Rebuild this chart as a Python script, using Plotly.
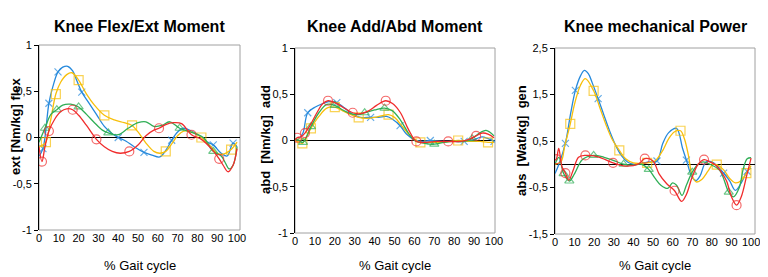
import plotly.graph_objects as go

# ---- data: % gait cycle (x) and values (y), markers shown at the listed x ----
# Knee Flex/Ext Moment [Nm/kg]
fe_blue_x = [0, 2, 5, 7, 9.6, 12, 14.5, 17, 19, 21.6, 25, 29, 33, 37, 40, 44, 48, 53, 57, 61, 64, 67, 70, 73, 77, 81, 85, 88, 92, 95, 98, 100]
fe_blue_y = [-0.2, -0.12, 0.37, 0.55, 0.71, 0.76, 0.77, 0.72, 0.62, 0.49, 0.38, 0.25, 0.12, 0.04, 0.0, -0.04, -0.1, -0.16, -0.19, -0.21, -0.14, -0.03, 0.06, 0.1, 0.07, 0.02, -0.05, -0.08, -0.17, -0.2, -0.06, -0.1]
fe_blue_m = [2, 5, 9.6, 21.6, 40, 53, 67, 88, 98]

fe_yellow_x = [0, 2, 3.5, 6, 8.5, 11, 14, 16.6, 20, 24, 28, 33, 38, 43, 47, 50, 54, 58, 61, 64, 67, 70, 73, 77, 82, 86, 90, 93, 97, 100]
fe_yellow_y = [-0.1, -0.08, -0.05, 0.2, 0.47, 0.6, 0.68, 0.7, 0.62, 0.47, 0.35, 0.24, 0.19, 0.16, 0.13, 0.06, -0.06, -0.15, -0.17, -0.15, -0.07, 0.02, 0.07, 0.06, 0.0, -0.08, -0.17, -0.18, -0.13, -0.05]
fe_yellow_m = [3.5, 8.5, 20, 33, 47, 64, 82, 97]

fe_green_x = [0, 3, 6, 9, 12, 16, 20, 24, 28, 32, 35, 40, 45, 50, 54, 58, 62, 66, 71, 75, 79, 83, 88, 92, 94, 96, 98, 100]
fe_green_y = [-0.05, 0.1, 0.25, 0.3, 0.35, 0.36, 0.33, 0.25, 0.16, 0.08, 0.05, 0.03, 0.1, 0.16, 0.17, 0.12, 0.13, 0.17, 0.1, 0.07, 0.04, 0.0, -0.15, -0.2, -0.27, -0.34, -0.3, -0.1]
fe_green_m = [3, 9, 20, 35, 71, 88]

fe_red_x = [0, 1.5, 3, 5, 8, 11, 14, 17, 20, 24, 29, 33, 37, 41, 45.6, 50, 54, 58, 60.6, 64, 68, 72, 77, 82, 87, 91, 93, 95.5, 98, 100]
fe_red_y = [-0.1, -0.26, -0.1, 0.07, 0.2, 0.28, 0.31, 0.3, 0.24, 0.13, -0.02, -0.1, -0.15, -0.17, -0.15, -0.08, 0.02, 0.08, 0.1, 0.14, 0.16, 0.15, 0.03, -0.02, -0.12, -0.23, -0.3, -0.37, -0.3, -0.12]
fe_red_m = [1.5, 5, 17, 29, 45.6, 60.6, 77, 91]

# Knee Add/Abd Moment [Nm/kg]
aa_blue_x = [0, 2, 4, 6.4, 10, 14, 17, 21, 25, 29, 33, 38, 42, 46, 49, 52.8, 56, 60, 64, 68, 74, 80, 85, 90, 94, 97, 100]
aa_blue_y = [0.0, 0.02, 0.08, 0.3, 0.36, 0.4, 0.42, 0.41, 0.35, 0.28, 0.25, 0.25, 0.25, 0.26, 0.23, 0.16, 0.07, 0.01, -0.01, 0.0, -0.01, -0.01, -0.01, 0.01, 0.04, 0.02, -0.01]
aa_blue_m = [6.4, 21, 38, 52.8, 68, 85, 100]

aa_yellow_x = [0, 2, 3.7, 6, 8, 12, 16, 20, 24, 28, 32, 36, 40, 44, 47, 50, 54, 58, 63, 68, 75, 82, 88, 93, 97, 100]
aa_yellow_y = [0.0, -0.02, -0.03, 0.05, 0.13, 0.26, 0.35, 0.36, 0.32, 0.28, 0.25, 0.24, 0.25, 0.27, 0.28, 0.25, 0.15, 0.05, -0.02, -0.02, -0.02, 0.0, -0.01, -0.01, -0.02, -0.02]
aa_yellow_m = [3.7, 8, 20, 32, 47, 63, 82, 97]

aa_green_x = [0, 2, 4, 8, 12, 16, 20, 24, 28, 32, 35, 40, 45, 49, 53, 57, 60, 65, 70, 75, 80, 85, 89, 92, 96, 100]
aa_green_y = [0.02, 0.0, -0.02, 0.15, 0.3, 0.39, 0.38, 0.33, 0.29, 0.28, 0.3, 0.33, 0.35, 0.32, 0.22, 0.08, 0.0, -0.03, -0.04, -0.02, -0.01, -0.01, 0.02, 0.07, 0.11, 0.05]
aa_green_m = [4, 8, 20, 35, 45, 70, 89]

aa_red_x = [0, 1, 3, 5, 8, 11, 14, 16.6, 20, 24, 29, 33, 37, 41, 45.6, 49, 53, 57, 61, 66, 71, 77, 83, 87, 91, 94, 97, 100]
aa_red_y = [0.0, 0.03, 0.04, 0.08, 0.18, 0.3, 0.4, 0.43, 0.41, 0.36, 0.3, 0.29, 0.32, 0.38, 0.43, 0.4, 0.3, 0.12, -0.01, -0.02, -0.01, -0.01, -0.01, 0.01, 0.05, 0.08, 0.07, 0.03]
aa_red_m = [1, 5, 16.6, 29, 45.6, 61, 77, 91]

# Knee mechanical Power [W/kg]
pw_blue_x = [0, 2, 5.3, 8, 10.4, 13, 15, 17, 19, 22, 25, 28, 31, 34, 37, 40, 44, 48, 52, 55, 58, 62, 65, 67, 70, 72, 74, 77, 80, 83, 86, 89, 92, 95, 98, 100]
pw_blue_y = [-0.2, 0.0, 0.45, 1.1, 1.59, 1.9, 2.02, 1.95, 1.75, 1.41, 1.05, 0.7, 0.4, 0.18, 0.05, 0.0, 0.02, 0.05, 0.07, 0.45, 0.68, 0.77, 0.35, 0.09, -0.28, -0.35, -0.25, 0.05, 0.05, -0.05, -0.19, -0.35, -0.56, -0.4, -0.15, -0.08]
pw_blue_m = [5.3, 10.4, 22, 52, 67, 86, 98]

pw_yellow_x = [0, 3, 5, 7.8, 10, 13, 15.5, 19.7, 23, 26, 29, 32.8, 36, 40, 44, 47, 51, 55, 58, 61, 64, 66, 68, 70, 72, 75, 78, 80.6, 82.5, 86, 89, 92, 95, 97.6, 100]
pw_yellow_y = [0.0, 0.05, 0.4, 0.87, 1.3, 1.7, 1.84, 1.58, 1.2, 0.85, 0.55, 0.3, 0.12, 0.03, 0.02, 0.03, 0.07, 0.3, 0.55, 0.7, 0.72, 0.55, 0.2, -0.25, -0.38, -0.32, -0.15, 0.0, -0.01, -0.12, -0.3, -0.4, -0.35, -0.19, -0.03]
pw_yellow_m = [7.8, 19.7, 32.8, 47, 64, 82.5, 97.6]

pw_green_x = [0, 2, 4.4, 7.3, 10, 14, 19.7, 25, 30, 35, 40, 44, 47.8, 51, 54, 57.5, 60, 62, 64.8, 67, 70, 73, 75.5, 79, 84, 88.6, 91, 94, 96, 98, 100]
pw_green_y = [0.0, 0.15, -0.2, -0.36, -0.2, 0.1, 0.19, 0.15, 0.08, 0.0, -0.02, 0.0, -0.11, -0.3, -0.45, -0.52, -0.4, -0.45, -0.67, -0.45, -0.17, 0.0, 0.05, 0.0, -0.13, -0.6, -0.7, -0.5, -0.1, 0.12, 0.14]
pw_green_m = [4.4, 7.3, 19.7, 35, 47.8, 70, 88.6]

pw_red_x = [0, 0.7, 1.9, 3.6, 5.3, 7, 9.5, 12, 15.5, 22, 29.6, 36, 42.7, 45.8, 50, 53, 57, 61, 64.6, 67, 70, 73, 76, 79, 82, 85, 87.5, 90, 92.6, 95, 98, 100]
pw_red_y = [0.09, 0.11, 0.34, -0.06, -0.19, -0.34, -0.1, 0.15, 0.19, 0.16, 0.03, -0.04, 0.01, 0.12, 0.07, -0.2, -0.42, -0.57, -0.8, -0.65, -0.27, 0.0, 0.1, 0.05, -0.02, -0.18, -0.36, -0.7, -0.88, -0.7, -0.2, 0.13]
pw_red_m = [0.7, 5.3, 15.5, 29.6, 45.8, 61, 76, 92.6]

x_ticks = [0, 10, 20, 30, 40, 50, 60, 70, 80, 90, 100]
moment_ticks = [-1, -0.5, 0, 0.5, 1]
moment_labels = ["-1", "-0,5", "0", "0,5", "1"]
power_ticks = [-1.5, -0.5, 0.5, 1.5, 2.5]
power_labels = ["-1,5", "-0,5", "0,5", "1,5", "2,5"]

titles = ["Knee Flex/Ext Moment", "Knee Add/Abd Moment", "Knee mechanical Power"]
y_titles = ["ext [Nm/kg] flex", "abd  [Nm/kg]  add", "abs  [Wat/kg]  gen"]

BLUE = "#2589dc"
YELLOW = "#f7bf0a"
GREEN = "#2fae55"
RED = "#f02c2c"
FONT = "Liberation Sans, Arial, sans-serif"

styles = [
    (BLUE, "x-thin-open", 7),
    (YELLOW, "square-open", 9),
    (GREEN, "triangle-up-open", 8),
    (RED, "circle-open", 9),
]

panels = [
    [(fe_blue_x, fe_blue_y, fe_blue_m), (fe_yellow_x, fe_yellow_y, fe_yellow_m),
     (fe_green_x, fe_green_y, fe_green_m), (fe_red_x, fe_red_y, fe_red_m)],
    [(aa_blue_x, aa_blue_y, aa_blue_m), (aa_yellow_x, aa_yellow_y, aa_yellow_m),
     (aa_green_x, aa_green_y, aa_green_m), (aa_red_x, aa_red_y, aa_red_m)],
    [(pw_blue_x, pw_blue_y, pw_blue_m), (pw_yellow_x, pw_yellow_y, pw_yellow_m),
     (pw_green_x, pw_green_y, pw_green_m), (pw_red_x, pw_red_y, pw_red_m)],
]

# the page body has an 8px margin, so the figure is 8px smaller each way
# and all page-pixel positions below are shifted by that offset
OFF = 8
W, H = 768 - OFF, 277 - OFF
boxes = [  # left, right, top, bottom (page px), x max
    (39, 240, 45, 230, 101.5),
    (295, 495, 48, 233, 100.5),
    (555, 755, 48, 234, 102),
]
y_ranges = [[-1, 1], [-1, 1], [-1.5, 2.5]]
y_ticks = [(moment_ticks, moment_labels), (moment_ticks, moment_labels), (power_ticks, power_labels)]
y_title_pos = [(16, 126), (265, 140), (521, 141)]


def px(x):
    return (x - OFF) / W


def py(y):
    return (H - (y - OFF)) / H


fig = go.Figure()
annotations = []
shapes = []

for i, series in enumerate(panels):
    n = "" if i == 0 else str(i + 1)
    xa, ya = "x" + n, "y" + n
    for (xs, ys, marks), (color, symbol, size) in zip(series, styles):
        sizes = [size if x in marks else 0 for x in xs]
        fig.add_trace(go.Scatter(
            x=xs, y=ys, xaxis=xa, yaxis=ya, mode="lines+markers",
            line=dict(color=color, width=1.3, shape="spline", smoothing=1.0),
            marker=dict(symbol=symbol, size=sizes, color=color, line=dict(color=color, width=1.2)),
            showlegend=False, hoverinfo="skip"
        ))

    l, r, t, b, xmax = boxes[i]
    tv, tt = y_ticks[i]
    fig.layout["xaxis" + n] = dict(
        domain=[px(l), px(r)], range=[0, xmax], anchor=ya, tickvals=x_ticks, automargin=False,
        showgrid=False, zeroline=False, showline=False, ticks="",
        tickfont=dict(family=FONT, size=11, color="black"),
    )
    fig.layout["yaxis" + n] = dict(
        domain=[py(b), py(t)], range=y_ranges[i], anchor=xa, tickvals=tv, ticktext=tt, automargin=False,
        showgrid=False, zeroline=True, zerolinecolor="black", zerolinewidth=1,
        showline=True, linecolor="black", linewidth=1, ticks="outside", ticklen=4,
        tickcolor="black", tickfont=dict(family=FONT, size=11, color="black"),
    )
    # light frame around the plot area
    shapes.append(dict(type="rect", xref=xa + " domain", yref=ya + " domain",
                       x0=0, x1=1, y0=0, y1=1, line=dict(color="#a0a0a0", width=1), layer="below"))

    annotations.append(dict(text="<b>" + titles[i] + "</b>", x=px((l + r) / 2), y=py(26),
                            xref="paper", yref="paper", xanchor="center", yanchor="middle", showarrow=False,
                            font=dict(family=FONT, size=16, color="black")))
    annotations.append(dict(text="% Gait cycle", x=px((l + r) / 2), y=py(265),
                            xref="paper", yref="paper", xanchor="center", yanchor="middle", showarrow=False,
                            font=dict(family=FONT, size=13, color="black")))
    tx, ty = y_title_pos[i]
    annotations.append(dict(text="<b>" + y_titles[i] + "</b>", x=px(tx), y=py(ty), textangle=-90,
                            xref="paper", yref="paper", xanchor="center", yanchor="middle", showarrow=False,
                            font=dict(family=FONT, size=13, color="black")))

fig.update_layout(
    width=W, height=H, margin=dict(l=0, r=0, t=0, b=0, pad=0),
    paper_bgcolor="white", plot_bgcolor="white",
    annotations=annotations, shapes=shapes,
)

fig.write_html("out.html")
